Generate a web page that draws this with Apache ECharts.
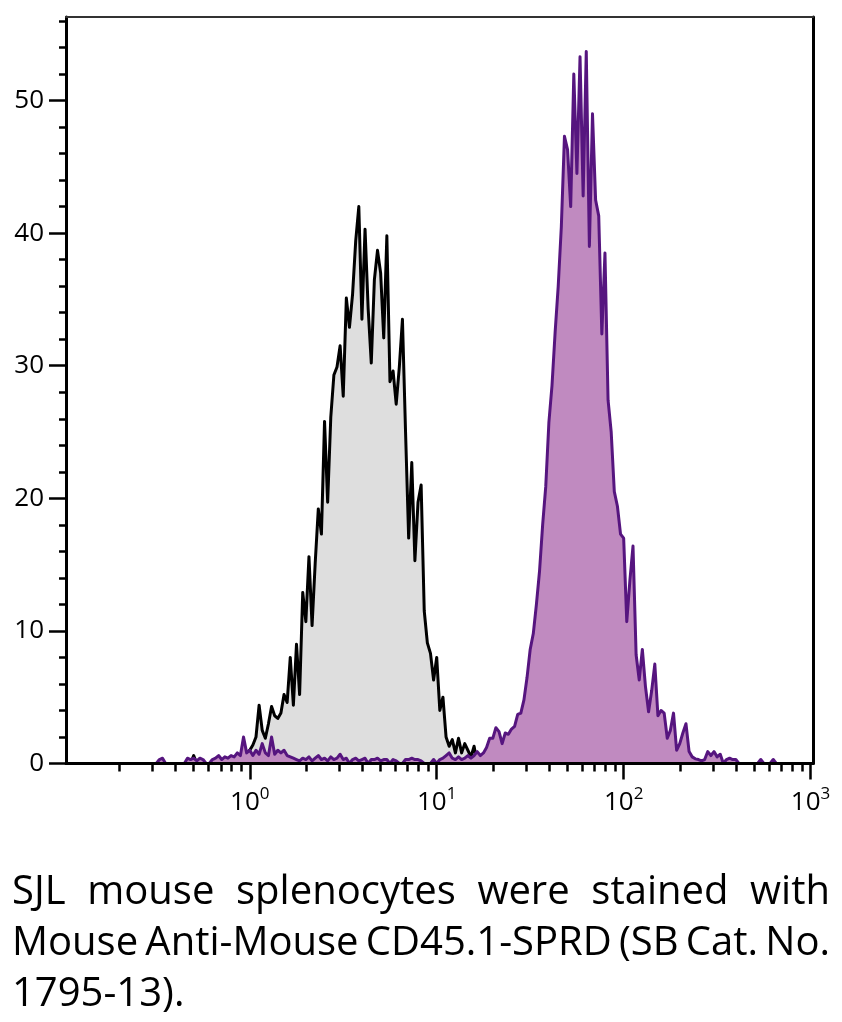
<!DOCTYPE html>
<html>
<head>
<meta charset="utf-8">
<script src="https://cdn.jsdelivr.net/npm/echarts@6/dist/echarts.min.js"></script>
<style>
html,body{margin:0;padding:0;background:#fff;}
#chart{width:842px;height:1022px;}
</style>
</head>
<body>
<div id="chart"></div>
<script>
// ---------- data ----------
const captionLines = [
  'SJL mouse splenocytes were stained with',
  'Mouse Anti-Mouse CD45.1-SPRD (SB Cat. No.',
  '1795-13).'
];
const yTickValues = [0, 10, 20, 30, 40, 50];
const yMinorTickValues = [2, 4, 6, 8, 12, 14, 16, 18, 22, 24, 26, 28, 32, 34, 36, 38, 42, 44, 46, 48, 52, 54, 56];
const xTickValues = [1, 10, 100, 1000];
const xMinorTickValues = [0.2, 0.3, 0.4, 0.5, 0.6, 0.7, 0.8, 0.9,
  2, 3, 4, 5, 6, 7, 8, 9, 20, 30, 40, 50, 60, 70, 80, 90,
  200, 300, 400, 500, 600, 700, 800, 900];
const xMin = 0.104, xMax = 1030;
const yMin = 0, yMax = 56.3;

// histogram channels: log-spaced bins (cytometer channel grid)
const channelLogStart = -0.5;
const channelsPerDecade = 60;

// isotype control (grey, black outline), counts per channel
const isotypeCounts = [
  0,0,0,0,0,0,0,0,0,0, 0,0,0.6,0,0,0,0,0,0,0,
  0,0,0,0,0,0,0,0,0.5,0.8, 1.0,1.4,2.0,4.4,2.5,1.9,3.0,4.3,3.6,3.4,
  3.8,5.2,4.6,8.0,4.4,9.0,5.2,12.9,10.7,15.6, 10.4,15.1,19.2,17.3,25.8,19.7,26.1,29.3,29.9,31.5,
  27.7,35.1,32.9,35.4,39.4,42.0,33.5,40.3,34.3,30.2, 36.5,38.7,37.0,32.1,39.8,28.8,29.6,27.1,29.9,33.5,
  25.0,17.0,22.7,15.3,19.7,21.0,11.5,9.1,8.3,6.3, 8.0,4.0,5.0,2.0,1.3,1.8,0.8,1.9,0.8,1.5,
  1.0,0.5,1.3,0
];
// CD45.1-SPRD stained (purple), counts per channel
const cd45Counts = [
  0,0.3,0.4,0,0,0,0,0,0,0, 0.4,0.3,0.4,0.2,0.4,0.3,0,0,0.3,0.4,
  0.6,0.3,0.5,0.4,0.6,0.5,0.8,0.6,2.0,0.8, 1.0,0.6,1.0,0.7,1.5,0.8,0.6,2.0,0.7,1.0,
  0.8,1.0,0.6,0.5,0.4,0.3,0.2,0.4,0.3,0.5, 0.2,0.4,0.6,0.3,0.4,0.2,0.5,0.3,0.4,0.7,
  0.3,0.4,0,0.3,0.4,0.2,0.3,0.4,0,0.3, 0.3,0.4,0.2,0.3,0.3,0,0.3,0.2,0,0,
  0.3,0.3,0.4,0.3,0.3,0.2,0,0,0,0.3, 0,0.3,0.4,0.6,0.8,0.4,0.3,0.5,0.3,0.4,
  0.6,0.4,0.6,0.9,0.6,0.8,1.2,1.9,1.9,2.7, 2.4,1.5,2.3,2.2,2.6,2.8,3.7,3.8,4.8,6.5,
  8.6,9.8,12.0,14.5,18.0,20.9,25.7,28.5,32.5,36.0, 40.5,47.3,46.3,42.0,52.0,44.5,53.3,42.8,53.7,39.0,
  49.0,42.5,41.3,32.4,38.5,27.4,25.0,20.5,19.4,17.3, 17.0,10.7,13.8,16.4,8.2,6.3,8.6,5.8,3.9,5.5,
  7.5,3.6,4.0,3.8,1.9,2.5,3.8,1.0,1.5,2.3, 3.0,0.9,0.5,0.35,0.3,0.2,0.3,0.9,0.6,0.9,
  0.5,0.7,0,0.3,0.4,0.3,0.3,0,0,0, 0,0,0,0,0.3,0,0,0,0.3,0,
  0
];

// ---------- build ----------
function toPairs(counts) {
  return counts.map((c, i) => [Math.pow(10, channelLogStart + i / channelsPerDecade), c]);
}

const FONT = '"Open Sans", "Noto Sans", sans-serif';
const chart = echarts.init(document.getElementById('chart'), null, {renderer: 'canvas'});

// caption (justified like the reference)
const capSize = 40;
const measureCtx = document.createElement('canvas').getContext('2d');
measureCtx.font = capSize + 'px ' + FONT;
const capLeft = 12, capRight = 830, capTop = 893, capLineH = 51;
const captionEls = [];
captionLines.forEach((line, li) => {
  const words = line.split(' ');
  const widths = words.map(w => measureCtx.measureText(w).width);
  const total = widths.reduce((a, b) => a + b, 0);
  const justify = li < captionLines.length - 1 && words.length > 1;
  const gap = justify ? (capRight - capLeft - total) / (words.length - 1) : measureCtx.measureText(' ').width;
  let x = capLeft;
  words.forEach((w, k) => {
    captionEls.push({
      type: 'text',
      x: x,
      y: capTop + li * capLineH,
      style: {text: w, fontSize: capSize, fontFamily: FONT, fill: '#000', verticalAlign: 'middle', align: 'left'}
    });
    x += widths[k] + gap;
  });
});

const tickStyle = {color: '#000', width: 2.5};
const option = {
  animation: false,
  backgroundColor: '#fff',
  grid: {left: 66, right: 29, top: 17, bottom: 258.5, containLabel: false},
  xAxis: [
    {
      type: 'log', logBase: 10, min: xMin, max: xMax, position: 'bottom', z: 10,
      axisLine: {onZero: false, lineStyle: {color: '#000', width: 3}},
      axisTick: {show: true, customValues: xTickValues, length: 16, lineStyle: tickStyle},
      minorTick: {show: false},
      axisLabel: {
        show: true, customValues: xTickValues, margin: 22,
        formatter: v => '{b|10}{s|' + Math.round(Math.log10(v)) + '}',
        rich: {
          b: {fontSize: 26, fontFamily: FONT, color: '#000', lineHeight: 30, verticalAlign: 'bottom'},
          s: {fontSize: 17, fontFamily: FONT, color: '#000', lineHeight: 17, verticalAlign: 'top'}
        }
      },
      splitLine: {show: false}
    },
    {
      type: 'log', logBase: 10, min: xMin, max: xMax, position: 'bottom', z: 10,
      axisLine: {show: false, onZero: false},
      axisTick: {show: true, customValues: xMinorTickValues, length: 8, lineStyle: tickStyle},
      axisLabel: {show: false},
      splitLine: {show: false}
    },
    {
      type: 'log', logBase: 10, min: xMin, max: xMax, position: 'top', z: 10,
      axisLine: {show: true, onZero: false, lineStyle: {color: '#333', width: 2}},
      axisTick: {show: false}, axisLabel: {show: false}, splitLine: {show: false}
    }
  ],
  yAxis: [
    {
      type: 'value', min: yMin, max: yMax, position: 'left', z: 10,
      axisLine: {show: true, onZero: false, lineStyle: {color: '#000', width: 3}},
      axisTick: {show: true, customValues: yTickValues, length: 17, lineStyle: tickStyle},
      axisLabel: {show: true, customValues: yTickValues, margin: 22, fontSize: 26, fontFamily: FONT, color: '#000'},
      splitLine: {show: false}
    },
    {
      type: 'value', min: yMin, max: yMax, position: 'left', z: 10,
      axisLine: {show: false, onZero: false},
      axisTick: {show: true, customValues: yMinorTickValues, length: 7, lineStyle: tickStyle},
      axisLabel: {show: false},
      splitLine: {show: false}
    },
    {
      type: 'value', min: yMin, max: yMax, position: 'right', z: 10,
      axisLine: {show: true, onZero: false, lineStyle: {color: '#000', width: 3}},
      axisTick: {show: false}, axisLabel: {show: false}, splitLine: {show: false}
    }
  ],
  series: [
    {
      name: 'Isotype', type: 'line', xAxisIndex: 0, yAxisIndex: 0,
      data: toPairs(isotypeCounts), showSymbol: false, symbol: 'none', sampling: null,
      lineStyle: {color: '#000', width: 3, join: 'round'},
      areaStyle: {color: '#dedede', opacity: 1},
      z: 2
    },
    {
      name: 'CD45.1-SPRD', type: 'line', xAxisIndex: 0, yAxisIndex: 0,
      data: toPairs(cd45Counts), showSymbol: false, symbol: 'none', sampling: null,
      lineStyle: {color: '#56157f', width: 3, join: 'round'},
      areaStyle: {color: '#c08ac0', opacity: 1},
      z: 3
    }
  ],
  graphic: captionEls
};
chart.setOption(option);
</script>
</body>
</html>
